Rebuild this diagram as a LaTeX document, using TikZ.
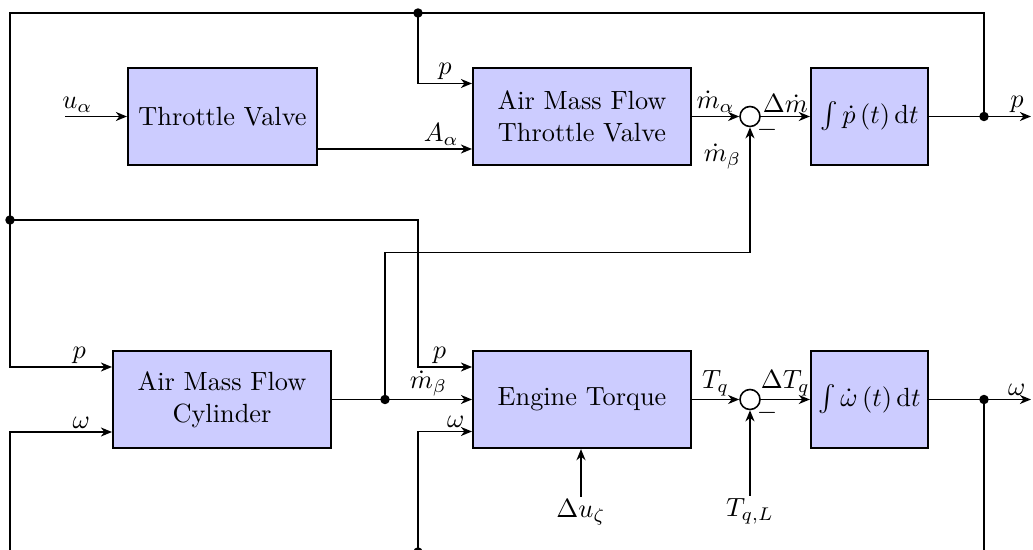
\documentclass[tikz,border=0pt]{standalone}
\usepackage{amsmath,amssymb}
\usetikzlibrary{arrows.meta}

\begin{document}
\begin{tikzpicture}[x=0.38pt,y=-0.38pt,line width=0.7pt,>={Stealth[length=4.2pt,width=3.4pt,inset=1.3pt]},
 every node/.append style={inner sep=1pt},
 blk/.style={draw,thick,fill=blue!20,minimum height=36.9pt,align=center},
 sumc/.style={draw,semithick,circle,fill=white,inner sep=0pt,minimum size=7.6pt},
 lbl/.style={anchor=north,inner sep=.5pt}]
 \useasboundingbox (0,0) rectangle (1033,550);
 \node[blk,minimum width=71.8pt] (tv) at (222.5,116.5) {Throttle Valve};
 \node[blk,minimum width=82.8pt] (amft) at (582,116.5) {Air Mass Flow\\Throttle Valve};
 \node[sumc] (sp) at (750,116.5) {};
 \node[blk,minimum width=44.5pt] (ip) at (869.5,116.5) {$\int\dot{p}\left(t\right)\mathrm{d}t$};
 \node[blk,minimum width=82.8pt] (amfc) at (222,399.5) {Air Mass Flow\\Cylinder};
 \node[blk,minimum width=82.8pt] (et) at (582,399.5) {Engine Torque};
 \node[sumc] (sw) at (750,399.5) {};
 \node[blk,minimum width=44.5pt] (iw) at (869.5,399.5) {$\int\dot{\omega}\left(t\right)\mathrm{d}t$};
 \node (mp) at (767,130) {$-$};
 \node (mw) at (767,413) {$-$};
 \node[lbl] (du) at (581,497) {$\Delta u_\zeta$};
 \node[lbl] (tql) at (750,496) {$T_{q,L}$};
 \coordinate (ua) at (65,116.5);
 \coordinate (pend) at (1031,116.5);
 \coordinate (wend) at (1031,399.5);
 \coordinate (pout) at (984,116.5);
 \coordinate (ptop) at (418,13);
 \coordinate (pleft) at (10,220);
 \coordinate (mb) at (385,399.5);
 \coordinate (wout) at (984,399.5);
 \coordinate (wbot) at (418,552);
 \draw[->] (ua) -- node[above,pos=.2] {$u_\alpha$} (tv);
 \draw[->] (tv.east |- 0,149) -- node[above,pos=.8] {$A_\alpha$} (amft.west |- 0,149);
 \draw[->] (ptop) |- node[above,pos=.75] {$p$} (amft.west |- 0,83.5);
 \draw[->] (amft) -- node[above] {$\dot m_\alpha$} (sp);
 \draw[->] (sp) -- node[above] {$\Delta\dot m$} (ip);
 \draw[->] (ip) -- (pout) -- node[above,pos=.7] {$p$} (pend);
 \draw[->] (pout) |- (ptop) -| (pleft) |- node[above,pos=.84] {$p$} (amfc.west |- 0,367);
 \draw[->] (pleft) -| (ptop |- 0,367) -- node[above,pos=.4] {$p$} (et.west |- 0,367);
 \draw[->] (amfc) -- (mb) -- node[above] {$\dot m_\beta$} (et);
 \draw[->] (mb) |- (sp.south |- 0,252.5) -- node[left,pos=.77,inner sep=3pt] {$\dot m_\beta$} (sp);
 \draw[->] (iw) -- (wout) -- node[above,pos=.7] {$\omega$} (wend);
 \draw[->] (wout) |- (wbot) -| (pleft |- 0,432) -- node[above,pos=.7] {$\omega$} (amfc.west |- 0,432);
 \draw[->] (wbot) |- node[above,pos=.85] {$\omega$} (et.west |- 0,431.5);
 \draw[->] (et) -- node[above] {$T_q$} (sw);
 \draw[->] (sw) -- node[above] {$\Delta T_q$} (iw);
 \draw[->] (du) -- (du |- et.south);
 \draw[->] (tql) -- (sw);
 \foreach \c in {pout,ptop,pleft,mb,wout,wbot}
  \fill (\c) circle (1.8pt);
\end{tikzpicture}
\end{document}
